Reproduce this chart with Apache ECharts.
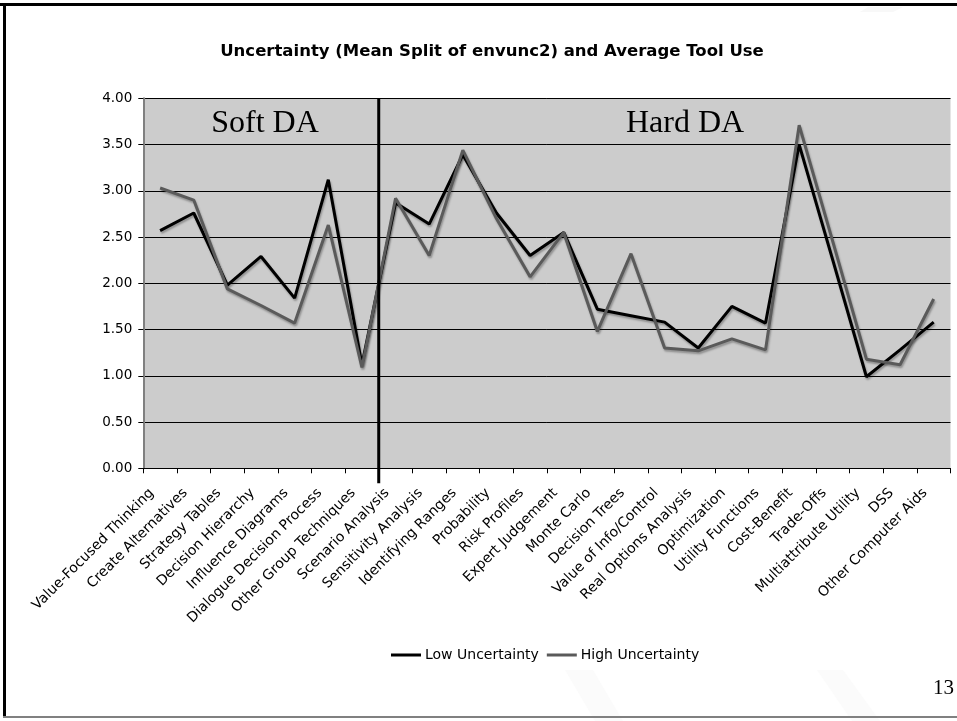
<!DOCTYPE html>
<html>
<head>
<meta charset="utf-8">
<script src="https://cdn.jsdelivr.net/npm/echarts@6/dist/echarts.min.js"></script>
<style>
  html, body { margin: 0; padding: 0; background: #ffffff; }
  #chart { width: 957px; height: 721px; }
</style>
</head>
<body>
<div id="chart"></div>
<script>
// Decision-analysis tools, soft tools first, then hard tools
const categories = [
  'Value-Focused Thinking', 'Create Alternatives', 'Strategy Tables', 'Decision Hierarchy',
  'Influence Diagrams', 'Dialogue Decision Process', 'Other Group Techniques', 'Scenario Analysis',
  'Sensitivity Analysis', 'Identifying Ranges', 'Probability', 'Risk Profiles',
  'Expert Judgement', 'Monte Carlo', 'Decision Trees', 'Value of Info/Control',
  'Real Options Analysis', 'Optimization', 'Utility Functions', 'Cost-Benefit',
  'Trade-Offs', 'Multiattribute Utility', 'DSS', 'Other Computer Aids'
];

// Average tool use, low-uncertainty group
const lowUncertainty = [
  2.57, 2.76, 1.98, 2.29, 1.84, 3.12, 1.12, 2.87,
  2.64, 3.39, 2.76, 2.30, 2.55, 1.72, 1.65, 1.58,
  1.30, 1.75, 1.57, 3.50, 2.25, 0.99, 1.28, 1.58
];

// Average tool use, high-uncertainty group
const highUncertainty = [
  3.03, 2.90, 1.94, 1.76, 1.57, 2.63, 1.09, 2.92,
  2.30, 3.44, 2.70, 2.07, 2.55, 1.48, 2.32, 1.30,
  1.27, 1.40, 1.28, 3.71, 2.45, 1.18, 1.12, 1.83
];

const seriesNames = ['Low Uncertainty', 'High Uncertainty'];
const yTicks = { min: 0, max: 4, interval: 0.5 };
const softCount = 7; // first seven tools are "Soft DA"

const chart = echarts.init(document.getElementById('chart'), null, { renderer: 'canvas' });

const lineShadow = {
  shadowColor: 'rgba(0,0,0,0.30)',
  shadowBlur: 2,
  shadowOffsetX: 1,
  shadowOffsetY: 2
};

chart.setOption({
  backgroundColor: '#ffffff',
  animation: false,
  title: {
    text: 'Uncertainty (Mean Split of envunc2) and Average Tool Use',
    left: 487,
    textAlign: 'center',
    top: 38,
    textStyle: {
      fontFamily: 'DejaVu Sans',
      fontSize: 16.5,
      fontWeight: 'bold',
      color: '#000000'
    }
  },
  legend: {
    data: [
      { name: seriesNames[0], icon: 'rect' },
      { name: seriesNames[1], icon: 'rect' }
    ],
    left: 386,
    top: 643,
    itemWidth: 30,
    itemHeight: 3,
    itemGap: 8,
    textStyle: { fontFamily: 'DejaVu Sans', fontSize: 14, color: '#000000', padding: [0, 0, 0, -1] }
  },
  grid: {
    left: 143.3,
    right: 6.5,
    top: 98.3,
    bottom: 252.7,
    show: true,
    backgroundColor: '#cccccc',
    borderWidth: 0,
    containLabel: false
  },
  xAxis: {
    type: 'category',
    data: categories,
    boundaryGap: true,
    axisLine: { show: true, lineStyle: { color: '#000000', width: 1 } },
    axisTick: { show: true, interval: 0, length: 5, lineStyle: { color: '#000000' } },
    axisLabel: {
      interval: 0,
      rotate: 45,
      margin: 14,
      padding: [0, 12, 0, 0],
      fontFamily: 'DejaVu Sans',
      fontSize: 14,
      color: '#000000'
    },
    splitLine: { show: false }
  },
  yAxis: {
    type: 'value',
    min: yTicks.min,
    max: yTicks.max,
    interval: yTicks.interval,
    axisLine: { show: true, lineStyle: { color: '#808080', width: 2 } },
    axisTick: { show: true, length: 5, lineStyle: { color: '#000000' } },
    axisLabel: {
      margin: 11,
      fontFamily: 'DejaVu Sans',
      fontSize: 13.5,
      color: '#000000',
      formatter: v => v.toFixed(2)
    },
    splitLine: { show: true, lineStyle: { color: '#000000', width: 1 } }
  },
  series: [
    {
      name: seriesNames[0],
      type: 'line',
      data: lowUncertainty,
      symbol: 'none',
      itemStyle: { color: '#000000' },
      lineStyle: Object.assign({ color: '#000000', width: 3 }, lineShadow),
      z: 3
    },
    {
      name: seriesNames[1],
      type: 'line',
      data: highUncertainty,
      symbol: 'none',
      itemStyle: { color: '#5a5a5a' },
      lineStyle: Object.assign({ color: '#5a5a5a', width: 3 }, lineShadow),
      z: 4
    }
  ]
});

// Divider between the soft and hard tool groups, placed on the category boundary
const xA = chart.convertToPixel({ xAxisIndex: 0 }, categories[softCount - 1]);
const xB = chart.convertToPixel({ xAxisIndex: 0 }, categories[softCount]);
const divX = (xA + xB) / 2;
const yTop = chart.convertToPixel({ yAxisIndex: 0 }, yTicks.max);
const yBottom = chart.convertToPixel({ yAxisIndex: 0 }, yTicks.min);

chart.setOption({
  graphic: [
    // faint slide watermark stripes
    { type: 'polygon', z: -10, silent: true,
      shape: { points: [[565, 670], [593, 670], [623, 721], [595, 721]] },
      style: { fill: '#fbfbfb' } },
    { type: 'polygon', z: -10, silent: true,
      shape: { points: [[817, 670], [843, 670], [880, 721], [852, 721]] },
      style: { fill: '#fbfbfb' } },
    { type: 'polygon', z: -10, silent: true,
      shape: { points: [[868, 7], [903, 7], [893, 12], [860, 12]] },
      style: { fill: '#f8f8f8' } },
    // slide frame
    { type: 'rect', z: 20, silent: true,
      shape: { x: 0, y: 3, width: 957, height: 3 }, style: { fill: '#000000' } },
    { type: 'rect', z: 20, silent: true,
      shape: { x: 3, y: 3, width: 3, height: 715 }, style: { fill: '#000000' } },
    { type: 'rect', z: 20, silent: true,
      shape: { x: 3, y: 716, width: 954, height: 2 }, style: { fill: '#808080' } },
    // group divider
    { type: 'line', z: 10, silent: true,
      shape: { x1: divX, y1: yTop, x2: divX, y2: yBottom + 15 },
      style: { stroke: '#000000', lineWidth: 3 } },
    // group labels
    { type: 'text', z: 10, silent: true,
      style: { text: 'Soft DA', x: 265, y: 108, align: 'center', verticalAlign: 'top',
               font: '32px "Liberation Serif"', fill: '#000000' } },
    { type: 'text', z: 10, silent: true,
      style: { text: 'Hard DA', x: 685, y: 108, align: 'center', verticalAlign: 'top',
               font: '32px "Liberation Serif"', fill: '#000000' } },
    // page number
    { type: 'text', z: 10, silent: true,
      style: { text: '13', x: 954, y: 678, align: 'right', verticalAlign: 'top',
               font: '21px "Liberation Serif"', fill: '#000000' } }
  ]
});
</script>
</body>
</html>
